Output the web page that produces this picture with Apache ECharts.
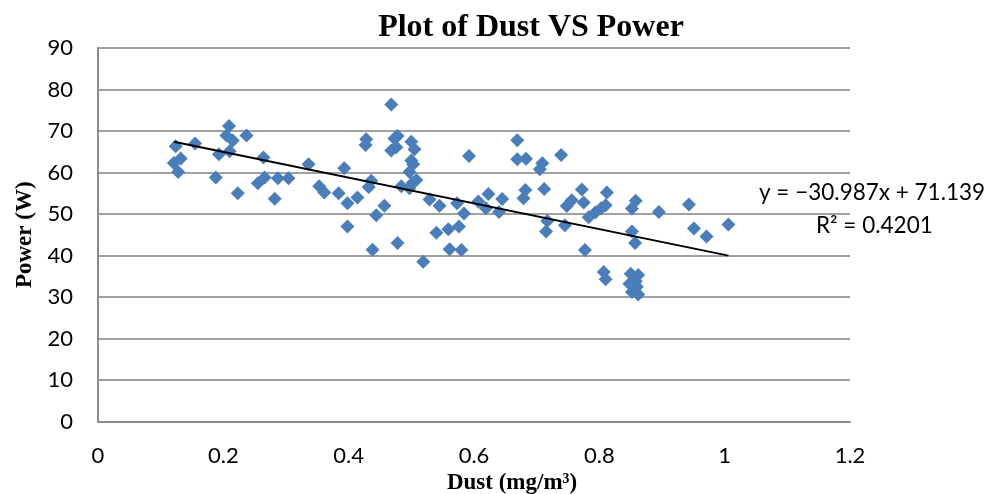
<!DOCTYPE html>
<html>
<head>
<meta charset="utf-8">
<script src="https://cdn.jsdelivr.net/npm/echarts@6/dist/echarts.min.js"></script>
<style>html,body{margin:0;padding:0;background:#fff;}#c{width:1004px;height:494px;}</style>
</head>
<body>
<div id="c"></div>
<script>
const dust = [0.124,0.132,0.121,0.128,0.155,0.188,0.193,0.209,0.205,0.215,0.210,0.237,0.223,0.264,0.266,0.255,0.287,0.304,0.282,0.336,0.353,0.361,0.384,0.393,0.398,0.398,0.414,0.428,0.427,0.436,0.432,0.444,0.438,0.457,0.468,0.473,0.478,0.476,0.468,0.478,0.484,0.497,0.500,0.505,0.500,0.503,0.497,0.508,0.502,0.519,0.529,0.540,0.545,0.559,0.561,0.573,0.576,0.580,0.584,0.592,0.607,0.619,0.623,0.640,0.645,0.669,0.669,0.683,0.682,0.679,0.709,0.705,0.739,0.712,0.717,0.715,0.745,0.748,0.756,0.772,0.775,0.783,0.777,0.794,0.803,0.810,0.812,0.807,0.810,0.858,0.852,0.852,0.857,0.850,0.862,0.855,0.848,0.860,0.852,0.862,0.858,0.895,0.943,0.951,0.971,1.006];
const power = [66.3,63.4,62.3,60.1,67.0,58.8,64.4,71.2,68.9,67.7,65.1,68.9,55.0,63.6,58.8,57.4,58.6,58.6,53.7,62.0,56.7,55.2,55.0,61.0,52.6,47.0,54.0,68.0,66.6,58.0,56.5,49.7,41.4,52.0,76.4,68.2,68.8,66.1,65.3,43.0,56.7,56.2,67.4,65.6,62.9,62.0,60.1,58.2,57.5,38.5,53.5,45.5,52.0,46.3,41.5,52.6,47.0,41.3,50.1,64.0,53.0,51.4,54.8,50.5,53.6,67.8,63.2,63.3,55.8,53.8,62.2,60.8,64.2,56.0,48.3,45.8,47.3,51.9,53.3,55.9,52.8,49.2,41.3,50.4,51.4,52.1,55.2,36.0,34.3,53.2,51.3,45.8,43.0,35.6,35.3,34.0,33.2,32.5,31.2,30.6,33.8,50.5,52.3,46.5,44.6,47.5];
const slope = -30.987;
const intercept = 71.139;
const r2 = 0.4201;
const xTicks = [0, 0.2, 0.4, 0.6, 0.8, 1, 1.2];
const yTicks = [0, 10, 20, 30, 40, 50, 60, 70, 80, 90];

const points = dust.map((d, i) => [d, power[i]]);
const xMin = Math.min(...dust), xMax = Math.max(...dust);
const trend = [[xMin, slope * xMin + intercept], [xMax, slope * xMax + intercept]];

const chart = echarts.init(document.getElementById('c'), null, {renderer: 'canvas'});
chart.setOption({
  animation: false,
  backgroundColor: '#ffffff',
  title: {
    text: 'Plot of Dust VS Power',
    left: 526, top: 7, textAlign: 'center',
    textStyle: {fontFamily: 'Liberation Serif', fontWeight: 'bold', fontSize: 32, color: '#000'}
  },
  grid: {left: 98, right: 154, top: 48, bottom: 72.5, outerBoundsMode: 'none', containLabel: false},
  xAxis: {
    type: 'value', min: 0, max: 1.2, interval: 0.2,
    name: 'Dust (mg/m³)', nameLocation: 'middle', nameGap: 48,
    nameTextStyle: {fontFamily: 'Liberation Serif', fontWeight: 'bold', fontSize: 23, color: '#000', padding: [0, 0, 0, 76]},
    axisLine: {show: true, lineStyle: {color: '#8c8c8c', width: 2}},
    axisTick: {show: false},
    splitLine: {show: false},
    axisLabel: {margin: 23, fontFamily: 'Lato', fontSize: 22, color: '#000',
      formatter: v => xTicks.includes(+v.toFixed(2)) ? String(+v.toFixed(2)) : ''}
  },
  yAxis: {
    type: 'value', min: 0, max: 90, interval: 10,
    name: 'Power (W)', nameLocation: 'middle', nameGap: 60,
    nameTextStyle: {fontFamily: 'Liberation Serif', fontWeight: 'bold', fontSize: 23, color: '#000'},
    axisLine: {show: true, lineStyle: {color: '#8c8c8c', width: 2}},
    axisTick: {show: false},
    splitLine: {show: true, lineStyle: {color: '#a0a0a0', width: 2}},
    axisLabel: {margin: 25, fontFamily: 'Lato', fontSize: 22, color: '#000',
      formatter: v => yTicks.includes(v) ? String(v) : ''}
  },
  series: [
    {
      type: 'scatter', data: points, symbol: 'diamond', symbolSize: 14,
      itemStyle: {color: '#4a7ebb', opacity: 1}, z: 3
    },
    {
      type: 'line', data: trend, symbol: 'none',
      lineStyle: {color: '#000', width: 2}, z: 4
    }
  ],
  graphic: [
    {type: 'text', left: 759, top: 181,
      style: {text: 'y = \u221230.987x + 71.139', fontFamily: 'Lato', fontSize: 22.5, fill: '#000'}},
    {type: 'text', left: 816, top: 214,
      style: {text: 'R\u00b2 = ' + r2.toFixed(4), fontFamily: 'Lato', fontSize: 22.5, fill: '#000'}}
  ]
});
</script>
</body>
</html>
